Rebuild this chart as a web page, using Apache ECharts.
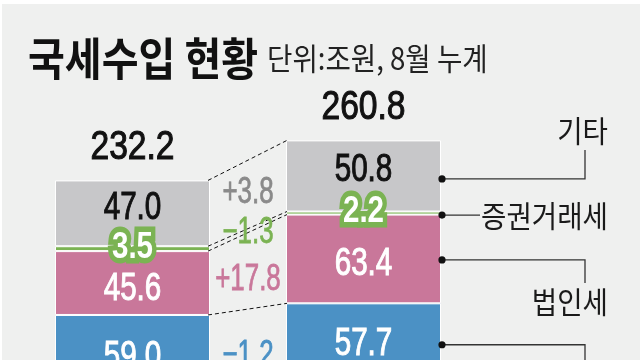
<!DOCTYPE html>
<html>
<head>
<meta charset="utf-8">
<script src="https://cdn.jsdelivr.net/npm/echarts@6/dist/echarts.min.js"></script>
<style>
html,body{margin:0;padding:0;background:#fff;}
#c{width:640px;height:360px;}
</style>
</head>
<body>
<div id="c"></div>
<script>
// ---- data ----
const categories = ['이전', '현재'];
const totals = [232.2, 260.8];
const blueVals = [59.0, 57.7];
const corpVals = [45.6, 63.4];   // 법인세
const secVals = [3.5, 2.2];      // 증권거래세
const etcVals = [47.0, 50.8];    // 기타
const diffLabels = ['+3.8', '\u22121.3', '+17.8', '\u22121.2']; // 기타, 증권거래세, 법인세, blue
const restVals = totals.map((t, i) => +(t - blueVals[i] - corpVals[i] - secVals[i] - etcVals[i]).toFixed(1));

// ---- styles ----
const C = { bg: '#eff0ef', gray: '#c7c7c9', green: '#7bb353', pink: '#c9779a', blue: '#4b91c5', rest: '#9fb3c4' };
const NUM = '"Liberation Sans", Arial, sans-serif';
const KR = '"Noto Sans CJK KR", sans-serif';
const BAR_W = 155;

const chart = echarts.init(document.getElementById('c'));

function barSeries(name, data, color) {
  return {
    name, type: 'bar', stack: 'total', data, barWidth: BAR_W,
    itemStyle: { color, borderColor: '#ffffff', borderWidth: 1 },
    silent: true, animation: false
  };
}

function txt(x, y, text, font, fill, sx, strokeW, strokeC) {
  const style = { text, font, fill, align: 'center', verticalAlign: 'middle' };
  if (strokeW) { style.stroke = strokeC || fill; style.lineWidth = strokeW; style.lineJoin = 'round'; }
  return { type: 'text', x, y, scaleX: sx, style };
}

function renderOverlay(params, api) {
  const children = [];
  const half = BAR_W / 2;
  const segs = [0, 1].map(i => [restVals[i], blueVals[i], corpVals[i], secVals[i], etcVals[i]]);
  const cum = segs.map(s => { let a = 0; return s.map(v => (a += v)); });
  const cx = [0, 1].map(i => api.coord([i, 0])[0]);
  const yOf = (i, v) => api.coord([i, v])[1];
  const center = (i, k) => yOf(i, cum[i][k] - segs[i][k] / 2);

  // dashed connectors
  const xL = cx[0] + half, xR = cx[1] - half;
  for (let k = 0; k < 5; k++) {
    children.push({
      type: 'line',
      shape: { x1: xL - 2, y1: yOf(0, cum[0][k]), x2: xR + 1, y2: yOf(1, cum[1][k]) },
      style: { stroke: '#111', lineWidth: 1, lineDash: [4, 3] }
    });
  }

  for (let i = 0; i < 2; i++) {
    children.push(txt(cx[i], yOf(i, totals[i]) - 33, totals[i].toFixed(1), '41px ' + NUM, '#111', 0.82, 1.1));
    children.push(txt(cx[i], center(i, 4) - 5, etcVals[i].toFixed(1), '38px ' + NUM, '#111', 0.78, 1));
    children.push(txt(cx[i], center(i, 2) + 6, corpVals[i].toFixed(1), '38px ' + NUM, '#fff', 0.78, 1));
    children.push(txt(cx[i], center(i, 1) + 1, blueVals[i].toFixed(1), '38px ' + NUM, '#fff', 0.78, 1));
    const gy = center(i, 3) - 1;
    children.push(txt(cx[i], gy, secVals[i].toFixed(1), 'bold 37px ' + NUM, C.green, 0.8, 11, C.green));
    children.push(txt(cx[i], gy, secVals[i].toFixed(1), 'bold 37px ' + NUM, '#fff', 0.8));
  }

  const midX = (xL + xR) / 2;
  const diffKeys = [4, 3, 2, 1];
  const diffColors = ['#8a8a8a', C.green, C.pink, C.blue];
  const diffDy = [-2, 2, 9, 6];
  diffKeys.forEach((k, j) => {
    const y = (center(0, k) + center(1, k)) / 2 + diffDy[j];
    children.push(txt(midX, y, diffLabels[j], '37px ' + NUM, diffColors[j], 0.7, 0.8));
  });

  const xd = cx[1] + half + 1;
  const ann = [
    { k: 4, dy: 3, pts: [[585, null], [585, 150]] },
    { k: 3, dy: 2, pts: [[480, null]] },
    { k: 2, dy: 1, pts: [[585, null], [585, 283]] },
    { k: 1, dy: 1, pts: [[585, null], [585, 420]] }
  ];
  ann.forEach(a => {
    const y = center(1, a.k) + a.dy;
    const pts = [[xd, y]].concat(a.pts.map(p => [p[0], p[1] === null ? y : p[1]]));
    children.push({ type: 'polyline', shape: { points: pts }, style: { stroke: '#333', lineWidth: 1.3, fill: null } });
    children.push({ type: 'circle', shape: { cx: xd, cy: y, r: 3.6 }, style: { fill: '#111' } });
  });

  return { type: 'group', children };
}

chart.setOption({
  backgroundColor: C.bg,
  animation: false,
  grid: { left: 17, width: 462, top: 85.5, height: 420, outerBoundsMode: 'none', containLabel: false },
  xAxis: { type: 'category', data: categories, show: false },
  yAxis: { type: 'value', min: 0, max: 300, show: false },
  series: [
    barSeries('하단', restVals, C.rest),
    barSeries('파랑', blueVals, C.blue),
    barSeries('법인세', corpVals, C.pink),
    barSeries('증권거래세', secVals, C.green),
    barSeries('기타', etcVals, C.gray),
    {
      type: 'custom', coordinateSystem: 'cartesian2d', z: 10, silent: true,
      data: [[0, 0]], renderItem: renderOverlay, clip: false
    }
  ],
  graphic: [
    { type: 'rect', shape: { x: 0, y: 0, width: 640, height: 4 }, style: { fill: '#fff' }, z: 100 },
    { type: 'rect', shape: { x: 0, y: 0, width: 2, height: 360 }, style: { fill: '#fff' }, z: 100 },
    { type: 'text', x: 28, y: 59, scaleX: 0.89, style: { text: '국세수입 현황', font: 'bold 45px ' + KR, fill: '#111', align: 'left', verticalAlign: 'middle' } },
    { type: 'text', x: 267, y: 58, scaleX: 0.89, style: { text: '단위:조원, 8월 누계', font: '31px ' + KR, fill: '#222', align: 'left', verticalAlign: 'middle' } },
    { type: 'text', x: 608, y: 131, scaleX: 0.92, style: { text: '기타', font: '30px ' + KR, fill: '#1a1a1a', align: 'right', verticalAlign: 'middle' } },
    { type: 'text', x: 608, y: 216, scaleX: 0.92, style: { text: '증권거래세', font: '30px ' + KR, fill: '#1a1a1a', align: 'right', verticalAlign: 'middle' } },
    { type: 'text', x: 608, y: 302, scaleX: 0.92, style: { text: '법인세', font: '30px ' + KR, fill: '#1a1a1a', align: 'right', verticalAlign: 'middle' } }
  ]
});
</script>
</body>
</html>
